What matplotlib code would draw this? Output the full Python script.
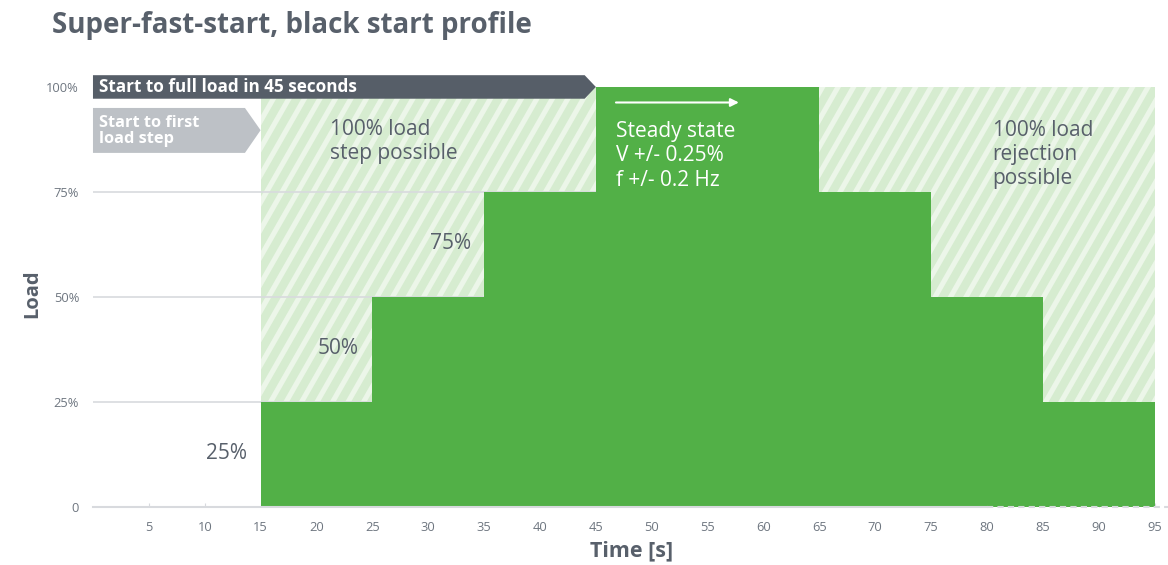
import numpy as np
import matplotlib
matplotlib.use("Agg")
import matplotlib.pyplot as plt
from matplotlib.patches import Polygon, Rectangle
from matplotlib.transforms import IdentityTransform

# Load profile (time in seconds, load in %)
step_edges = [15, 25, 35, 45, 65, 75, 85, 95]
step_loads = [25, 50, 75, 100, 75, 50, 25]
x_ticks = [5, 10, 15, 20, 25, 30, 35, 40, 45, 50, 55, 60, 65, 70, 75, 80, 85, 90, 95]
y_ticks = [0, 25, 50, 75, 100]
y_tick_labels = ["0", "25%", "50%", "75%", "100%"]
step_labels = ["25%", "50%", "75%"]

GREEN = "#52b047"
HATCH_BG = "#ecf6e9"
HATCH_LINE = "#d6ecd0"
TEXT = "#58606b"
TICK = "#6e7680"
GRID = "#d8dade"
DARK = "#565e68"
LIGHT = "#bdc1c6"

plt.rcParams["font.family"] = ["Open Sans", "DejaVu Sans"]

fig = plt.figure(figsize=(11.68, 5.65), dpi=100)
ax = fig.add_axes([0.0796, 0.1027, 0.9137, 0.7434])
ax.set_xlim(0, 95.5)
ax.set_ylim(0, 100)
for s in ax.spines.values():
    s.set_visible(False)

# Hatched "possible" zone behind the profile
zone = Rectangle((step_edges[0], 0), step_edges[-1] - step_edges[0], 100,
                 facecolor=HATCH_BG, edgecolor="none", zorder=1)
ax.add_patch(zone)
fig.canvas.draw()
W, H = fig.canvas.get_width_height()
slope = 1.75  # dy/dx of the stripes in pixels
period = 15.5
for x0 in np.arange(-H / slope - 50, W + 50, period):
    ln, = ax.plot([x0, x0 + H / slope], [0, H], color=HATCH_LINE, lw=6,
                  transform=IdentityTransform(), zorder=1.5, solid_capstyle="butt")
    ln.set_clip_path(zone)

# Grid lines (hidden behind the filled profile)
for yv in y_ticks[1:-1]:
    ax.plot([0, 45], [yv, yv], color=GRID, lw=1.2, zorder=2)

# Step profile
xs, ys = [], []
for i, v in enumerate(step_loads):
    xs += [step_edges[i], step_edges[i + 1]]
    ys += [v, v]
ax.fill_between(xs, ys, 0, color=GREEN, lw=0, zorder=3)

# Baseline
ax.plot([0, 80], [0, 0], color=GRID, lw=1.5, zorder=4, clip_on=False)
ax.plot([80, 96.5], [0, 0], color=GRID, lw=1.5, ls=(0, (3, 2)), zorder=4, clip_on=False)

# Ticks
ax.set_xticks(x_ticks)
ax.set_xticklabels([str(t) for t in x_ticks])
ax.set_yticks(y_ticks)
ax.set_yticklabels(y_tick_labels)
ax.tick_params(axis="x", length=3, color=GRID, labelsize=9.3, labelcolor=TICK, pad=10, direction="in")
ax.tick_params(axis="y", length=0, labelsize=9.3, labelcolor=TICK, pad=10)

ax.set_xlabel("Time [s]", fontsize=15.5, fontweight="bold", color=TEXT)
ax.xaxis.set_label_coords((632 - 93.4) / 1067.2, -(551 - 507) / 420, transform=ax.transAxes)
ax.xaxis.label.set_va("center")
ax.set_ylabel("Load", fontsize=14.5, fontweight="bold", color=TEXT)
ax.yaxis.set_label_coords(-(93.4 - 33) / 1067.2, (507 - 294) / 420, transform=ax.transAxes)
ax.yaxis.label.set_va("center")

fig.text(52 / 1168, 1 - 26 / 565, "Super-fast-start, black start profile",
         fontsize=20, fontweight="bold", color=TEXT, va="center", ha="left")

# Step value labels
for i, lab in enumerate(step_labels):
    ax.text(step_edges[i] - 1.2, step_loads[i] - 12.3, lab, ha="right", va="center",
            fontsize=15, color=TEXT, zorder=5)

# Banners
dark = Polygon([[0, 97.2], [44, 97.2], [45, 100], [44, 102.8], [0, 102.8]],
               closed=True, facecolor=DARK, edgecolor="none", zorder=6, clip_on=False)
ax.add_patch(dark)
ax.text(0.55, 100, "Start to full load in 45 seconds", color="white", fontsize=12.3,
        fontweight="bold", va="center", ha="left", zorder=7)
light = Polygon([[0, 84.3], [13.6, 84.3], [15, 89.7], [13.6, 95.0], [0, 95.0]],
                closed=True, facecolor=LIGHT, edgecolor="none", zorder=6, clip_on=False)
ax.add_patch(light)
ax.text(0.55, 89.5, "Start to first\nload step", color="white", fontsize=11.8,
        fontweight="bold", va="center", ha="left", linespacing=0.98, zorder=7)

# Annotations in the zones
ax.text(21.2, 87.0, "100% load\nstep possible", fontsize=15, color=TEXT,
        va="center", ha="left", linespacing=1.18, zorder=5)
ax.text(80.5, 84.0, "100% load\nrejection\npossible", fontsize=15, color=TEXT,
        va="center", ha="left", linespacing=1.18, zorder=5)
ax.text(46.8, 83.6, "Steady state\nV +/- 0.25%\nf +/- 0.2 Hz", fontsize=15,
        color="white", va="center", ha="left", linespacing=1.22, zorder=5)
ax.annotate("", xy=(57.8, 96.3), xytext=(46.8, 96.3),
            arrowprops=dict(arrowstyle="-|>", color="white", lw=1.5,
                            mutation_scale=12, shrinkA=0, shrinkB=0), zorder=5)

fig.savefig("out.png", dpi=100)
